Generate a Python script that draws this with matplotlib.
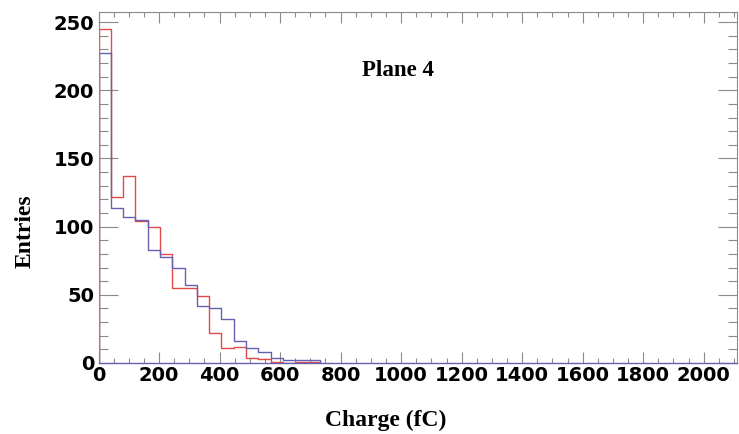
import numpy as np
import matplotlib.pyplot as plt
from matplotlib.ticker import MultipleLocator

# histogram contents (entries per bin), bins start at 0 fC
bin_width = 40.6
red_counts = [245, 122, 137, 104, 100, 80, 55, 55, 49, 22, 11, 12, 4, 3, 1, 0, 1, 1]
blue_counts = [227, 114, 107, 105, 83, 78, 70, 57, 42, 40, 32, 16, 11, 8, 4, 2, 2, 2]
x_ticks = [0, 200, 400, 600, 800, 1000, 1200, 1400, 1600, 1800, 2000]
y_ticks = [0, 50, 100, 150, 200, 250]

red_col = '#e24a4a'
blue_col = '#6561b0'
tick_col = '#8a8a8a'


def draw_hist(ax, counts, color):
    edges = np.arange(len(counts) + 1) * bin_width
    vals = np.concatenate([[0], counts, [0]])
    xs = np.concatenate([[edges[0]], edges])
    ax.step(xs, vals, where='post', color=color, lw=1.0)


def main():
    fig = plt.figure(figsize=(7.39, 4.34), dpi=100)
    ax = fig.add_axes([0.1333, 0.1636, 0.8640, 0.8076])

    draw_hist(ax, red_counts, red_col)
    draw_hist(ax, blue_counts, blue_col)

    ax.set_xlim(0, 2110)
    ax.set_ylim(0, 257)

    ax.xaxis.set_major_locator(MultipleLocator(200))
    ax.xaxis.set_minor_locator(MultipleLocator(50))
    ax.yaxis.set_major_locator(MultipleLocator(50))
    ax.yaxis.set_minor_locator(MultipleLocator(10))
    ax.set_xticks(x_ticks)
    ax.set_yticks(y_ticks)

    lab_font = dict(family='DejaVu Sans', weight='bold', size=14)
    ax.set_xticklabels([str(t) for t in x_ticks], fontdict=lab_font)
    ax.set_yticklabels([str(t) for t in y_ticks], fontdict=lab_font)

    ax.tick_params(axis='x', which='major', direction='in', top=True,
                   length=7.6, width=0.8, color=tick_col, pad=2)
    ax.tick_params(axis='x', which='minor', direction='in', top=True,
                   length=3.8, width=0.8, color=tick_col)
    ax.tick_params(axis='y', which='major', direction='in', right=True,
                   length=13.5, width=0.8, color=tick_col, pad=3)
    ax.tick_params(axis='y', which='minor', direction='in', right=True,
                   length=6.8, width=0.8, color=tick_col)

    for side in ['top', 'right', 'left']:
        ax.spines[side].set_color(tick_col)
        ax.spines[side].set_linewidth(0.8)
    ax.spines['bottom'].set_color(blue_col)
    ax.spines['bottom'].set_linewidth(1.0)

    title_font = dict(family='Liberation Serif', weight='bold', size=17)
    fig.text(386 / 739, 1 - 420 / 434, 'Charge (fC)', ha='center', va='center',
             fontdict=title_font)
    fig.text(25 / 739, 1 - 231 / 434, 'Entries', ha='center', va='center',
             rotation=90, fontdict=title_font)

    fig.text(398 / 739, 1 - 71 / 434, 'Plane 4', ha='center', va='center',
             family='Liberation Serif', weight='bold', size=16.5)

    fig.savefig('out.png', dpi=100)


if __name__ == '__main__':
    main()
